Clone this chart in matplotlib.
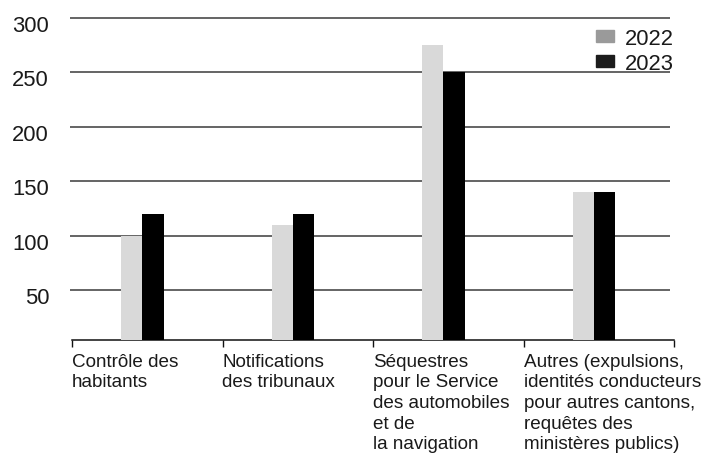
import matplotlib
matplotlib.use('Agg')
import matplotlib.pyplot as plt
import numpy as np
from matplotlib.patches import Patch
from matplotlib.transforms import ScaledTranslation

plt.rcParams['font.family'] = ['Liberation Sans', 'DejaVu Sans']

categories = ['Contrôle des\nhabitants',
              'Notifications\ndes tribunaux',
              'Séquestres\npour le Service\ndes automobiles\net de\nla navigation',
              'Autres (expulsions,\nidentités conducteurs\npour autres cantons,\nrequêtes des\nministères publics)']
vals_2022 = [100, 110, 275, 140]
vals_2023 = [120, 120, 250, 140]
yticks = [50, 100, 150, 200, 250, 300]

txt = '#1a1a1a'
fig = plt.figure(figsize=(7.04, 4.56), dpi=100)
ax = fig.add_axes([72/704, 1-340.5/456, 602/704, (340.5-19)/456])

x = np.arange(len(categories))
w = 0.14
ax.bar(x - 0.032 - w/2, vals_2022, width=w, color='#d9d9d9', zorder=3)
ax.bar(x - 0.032 + w/2, vals_2023, width=w, color='#000000', zorder=3)

ax.set_xlim(-0.5, 3.5)
ax.set_ylim(4.5, 300)

# grid lines
ax.hlines(yticks, -0.515, 3.475, colors='#3a3a3a', linewidth=1.1, zorder=1, clip_on=False)

for s in ['left', 'right', 'top']:
    ax.spines[s].set_visible(False)
ax.spines['bottom'].set_color('#111111')
ax.spines['bottom'].set_linewidth(1.1)

ax.set_yticks(yticks)
ax.set_yticklabels([str(v) for v in yticks])
ax.tick_params(axis='y', length=0, pad=16.5, labelsize=15.8, labelcolor=txt)
for lab in ax.get_yticklabels():
    lab.set_transform(lab.get_transform() + ScaledTranslation(0, -0.05, fig.dpi_scale_trans))

ax.set_xticks(np.arange(-0.5, 4.0, 1.0))
ax.set_xticklabels(categories + [''], ha='left', va='top')
ax.tick_params(axis='x', length=5, width=1, color='#111111', direction='out',
               pad=4.5, labelsize=13.6, labelcolor=txt)
plt.setp(ax.get_xticklabels(), linespacing=1.28)

handles = [Patch(color='#9a9a9a'), Patch(color='#1c1c1c')]
ax.legend(handles, ['2022', '2023'], loc='upper right',
          bbox_to_anchor=(674/704, 1-29/456), bbox_transform=fig.transFigure,
          frameon=False, fontsize=15.8, borderpad=0, borderaxespad=0,
          handlelength=0.8, handleheight=0.45, handletextpad=0.5,
          labelspacing=0.17, labelcolor=txt)

fig.savefig('out.png', dpi=100)
